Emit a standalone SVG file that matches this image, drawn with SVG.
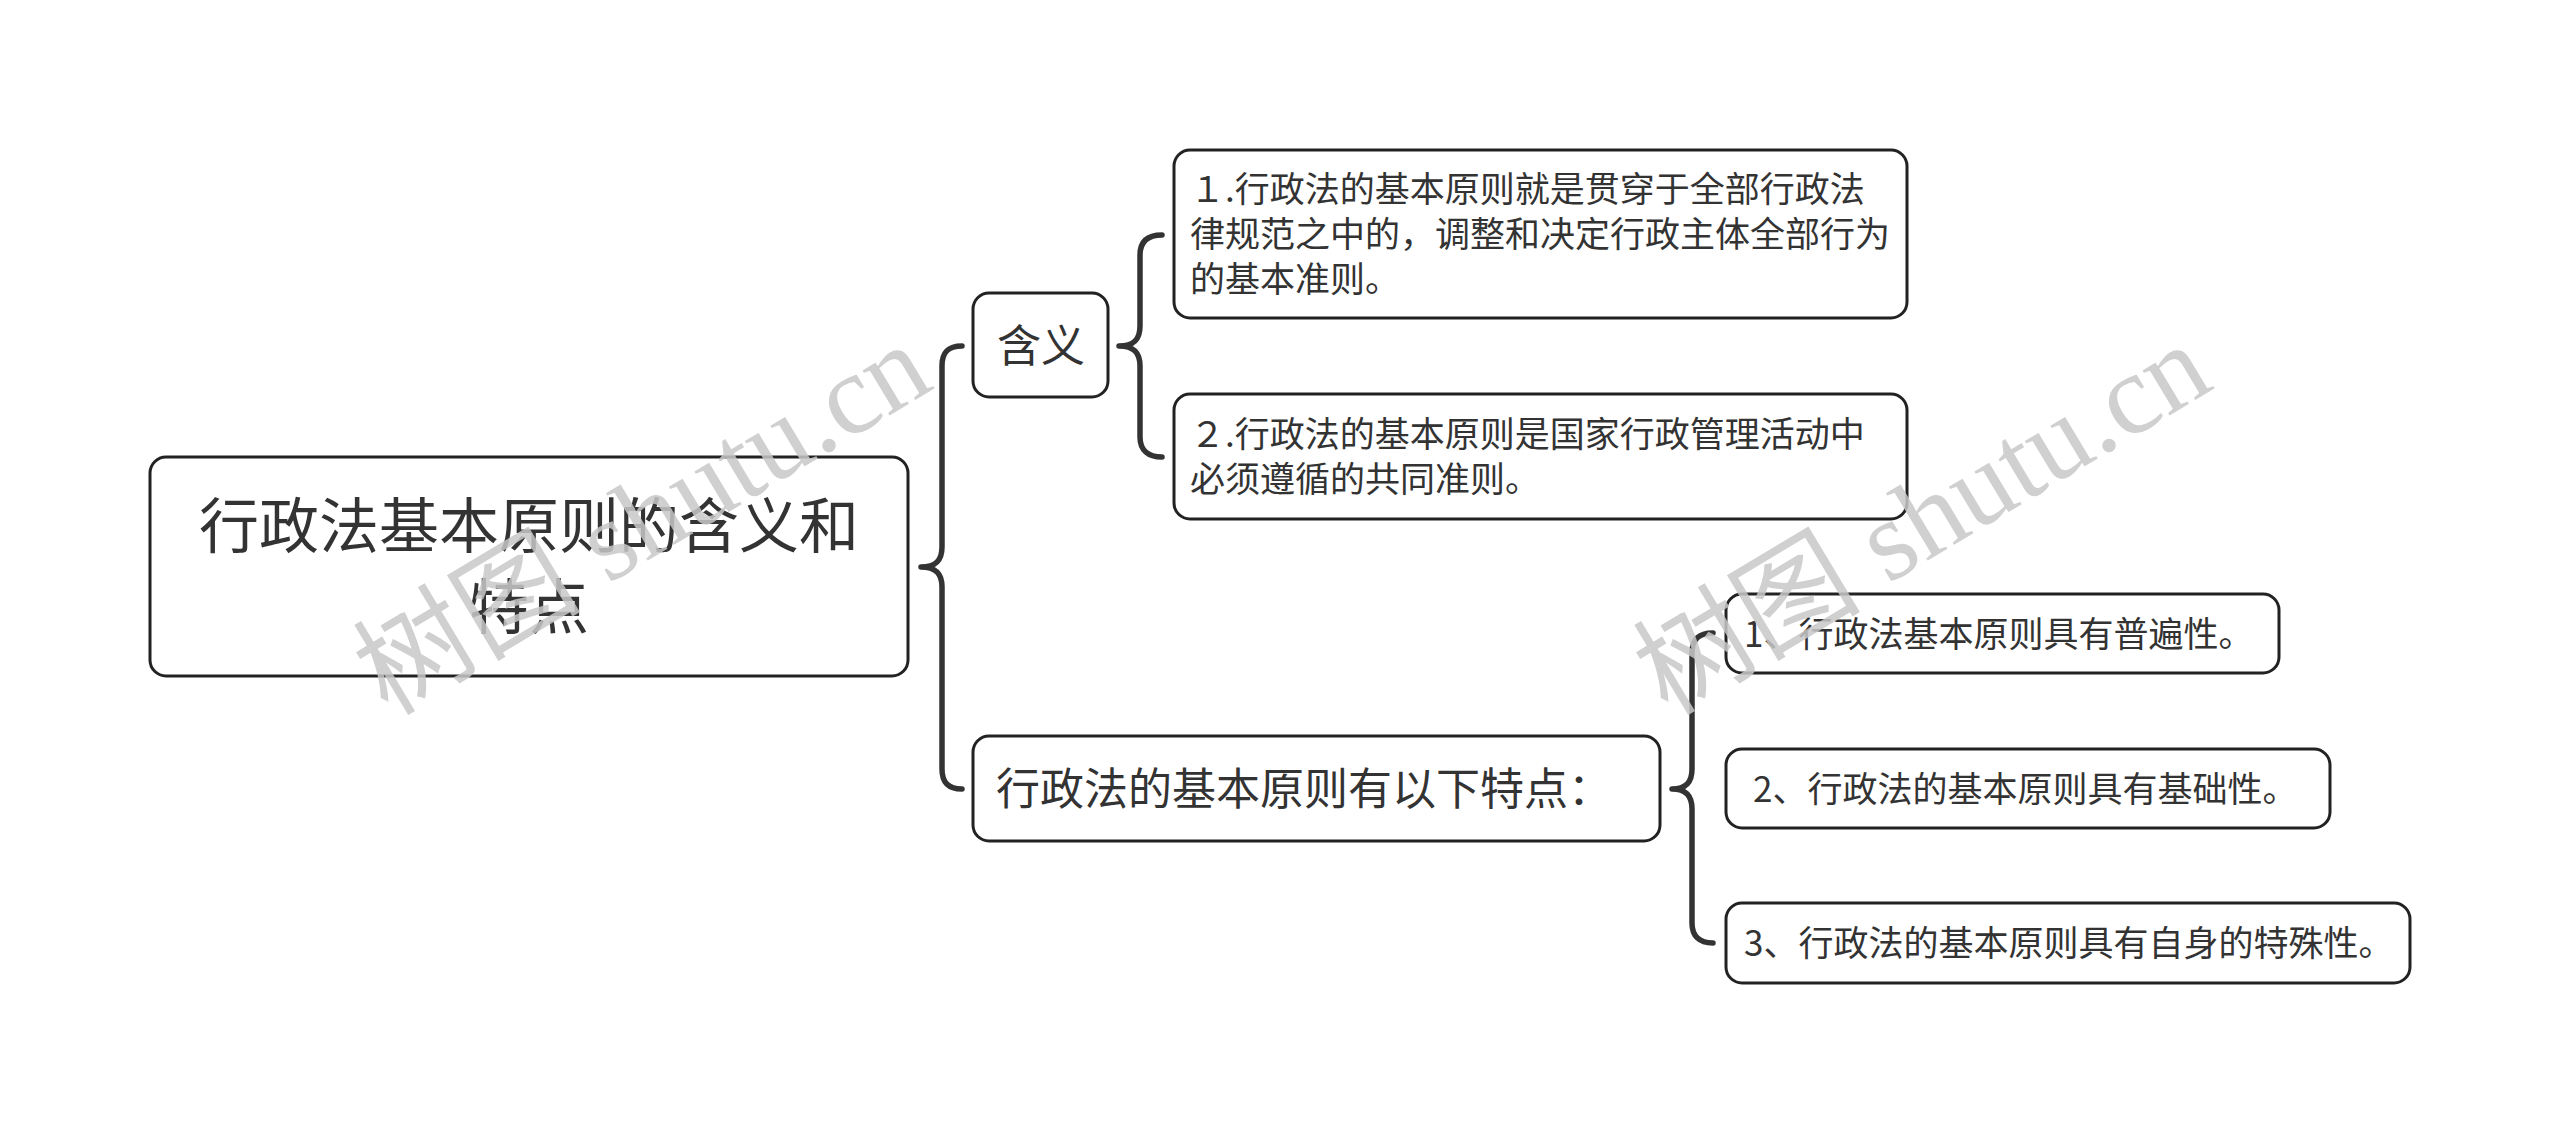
<svg xmlns="http://www.w3.org/2000/svg" width="2560" height="1133" viewBox="0 0 2560 1133">
<style>
.box{fill:#fff;stroke:#222;stroke-width:3}
.t{font-family:"Microsoft YaHei","Noto Sans CJK SC","Noto Sans",sans-serif;fill:#333}
.br{fill:none;stroke:#333;stroke-width:5.5;stroke-linecap:round;stroke-linejoin:round}
.wm{font-family:"Liberation Serif","Noto Sans CJK SC",serif;fill:#c8c8c8;font-size:114px;opacity:0.85}
</style>
<rect width="2560" height="1133" fill="#fff"/>
<g id="connectors">
<path class="br" d="M962,346 C948,346 942,352 942,366 L942,547 C942,560 936,567 921,567 C936,567 942,574 942,587 L942,769 C942,782 948,789 962,789"/>
<path class="br" d="M1162,235 C1148,235 1140,241 1140,255 L1140,326 C1140,339 1134,346 1119,346 C1134,346 1140,353 1140,366 L1140,437 C1140,450 1148,457 1162,457"/>
<path class="br" d="M1713,633 C1699,633 1692,639 1692,653 L1692,769 C1692,782 1686,789 1672,789 C1686,789 1692,796 1692,809 L1692,923 C1692,936 1699,943 1713,943"/>
</g>
<g id="root">
<rect class="box" x="150" y="457" width="758" height="219" rx="16"/>
<text class="t" font-size="60" text-anchor="middle" x="529" y="548">行政法基本原则的含义和</text>
<text class="t" font-size="60" text-anchor="middle" x="529" y="629">特点</text>
</g>
<g id="n-hanyi">
<rect class="box" x="973" y="293" width="135" height="104" rx="16"/>
<text class="t" font-size="44" x="997" y="362">含义</text>
</g>
<g id="n-a1">
<rect class="box" x="1174" y="150" width="733" height="168" rx="16"/>
<text class="t" font-size="35" x="1190" y="202">１.行政法的基本原则就是贯穿于全部行政法</text>
<text class="t" font-size="35" x="1190" y="247">律规范之中的，调整和决定行政主体全部行为</text>
<text class="t" font-size="35" x="1190" y="292">的基本准则。</text>
</g>
<g id="n-a2">
<rect class="box" x="1174" y="394" width="733" height="125" rx="16"/>
<text class="t" font-size="35" x="1190" y="447">２.行政法的基本原则是国家行政管理活动中</text>
<text class="t" font-size="35" x="1190" y="492">必须遵循的共同准则。</text>
</g>
<g id="n-tedian">
<rect class="box" x="973" y="736" width="687" height="105" rx="16"/>
<text class="t" font-size="44" x="996" y="805">行政法的基本原则有以下特点：</text>
</g>
<g id="n-b1">
<rect class="box" x="1726" y="594" width="553" height="79" rx="16"/>
<text class="t" font-size="35" x="1744" y="647">1、行政法基本原则具有普遍性。</text>
</g>
<g id="n-b2">
<rect class="box" x="1726" y="749" width="604" height="79" rx="16"/>
<text class="t" font-size="35" x="1753" y="802">2、行政法的基本原则具有基础性。</text>
</g>
<g id="n-b3">
<rect class="box" x="1726" y="903" width="684" height="80" rx="16"/>
<text class="t" font-size="35" x="1744" y="956">3、行政法的基本原则具有自身的特殊性。</text>
</g>
<g id="watermarks">
<text class="wm" text-anchor="middle" transform="translate(662,552) rotate(-31)">树图 shutu.cn</text>
<text class="wm" text-anchor="middle" transform="translate(1942,552) rotate(-31)">树图 shutu.cn</text>
</g>
</svg>
